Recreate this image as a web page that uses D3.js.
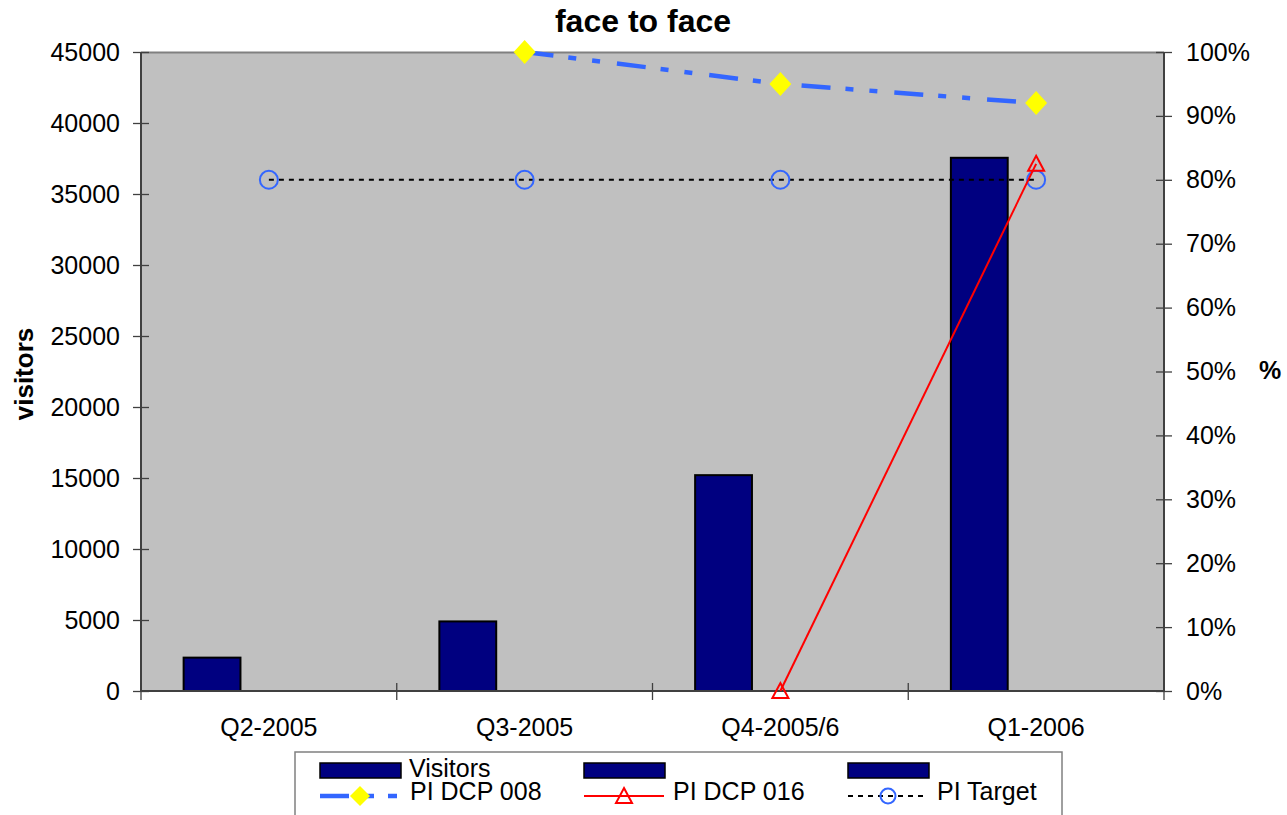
<!DOCTYPE html>
<html>
<head>
<meta charset="utf-8">
<script src="https://cdn.jsdelivr.net/npm/d3@7"></script>
<style>
  html, body { margin: 0; padding: 0; background: #ffffff; }
  svg { display: block; font-family: "Liberation Sans", Arial, sans-serif; }
</style>
</head>
<body>
<svg id="chart" width="1287" height="815"></svg>
<script>
// Quarterly data
const categories = ["Q2-2005", "Q3-2005", "Q4-2005/6", "Q1-2006"];
const visitors = [2350, 4900, 15200, 37550];
const barSeries = ["Visitors", "", ""];           // three column series, only the first has values
const piDcp008 = [null, 1.00, 0.95, 0.92];
const piDcp016 = [null, null, 0.00, 0.825];
const piTarget = [0.80, 0.80, 0.80, 0.80];
const leftTicks = [0, 5000, 10000, 15000, 20000, 25000, 30000, 35000, 40000, 45000];
const rightTicks = [0, 0.1, 0.2, 0.3, 0.4, 0.5, 0.6, 0.7, 0.8, 0.9, 1.0];

const svg = d3.select("#chart");
const plot = { left: 141, right: 1164, top: 52, bottom: 691 };
const axisColor = "#404040";
const blue = "#3366ff";
const tickFont = 25;

const x = d3.scaleBand().domain(categories).range([plot.left, plot.right]).padding(0);
const bw = x.bandwidth();
// gap width 150% between column groups
const xInner = d3.scaleBand().domain(d3.range(barSeries.length))
  .range([bw * 0.75 / 4.5, bw - bw * 0.75 / 4.5]).padding(0);
const yL = d3.scaleLinear().domain([0, 45000]).range([plot.bottom, plot.top]);
const yR = d3.scaleLinear().domain([0, 1]).range([plot.bottom, plot.top]);

// plot background
svg.append("rect")
  .attr("x", plot.left).attr("y", plot.top)
  .attr("width", plot.right - plot.left).attr("height", plot.bottom - plot.top)
  .attr("fill", "#c0c0c0");
svg.append("line")
  .attr("x1", plot.left).attr("x2", plot.right)
  .attr("y1", plot.top + 0.5).attr("y2", plot.top + 0.5)
  .attr("stroke", "#808080").attr("stroke-width", 2);

// title and axis titles
svg.append("text").attr("x", 643).attr("y", 32).attr("text-anchor", "middle")
  .attr("font-size", 32).attr("font-weight", "bold").text("face to face");
svg.append("text").attr("transform", "translate(33,374) rotate(-90)")
  .attr("text-anchor", "middle").attr("font-size", 26).attr("font-weight", "bold").text("visitors");
svg.append("text").attr("x", 1270).attr("y", 379).attr("text-anchor", "middle")
  .attr("font-size", 25).attr("font-weight", "bold").text("%");

// columns
const colGroup = svg.append("g");
colGroup.selectAll("rect")
  .data(visitors.map((v, i) => ({ cat: categories[i], v })))
  .join("rect")
  .attr("x", d => x(d.cat) + xInner(0))
  .attr("y", d => yL(d.v))
  .attr("width", xInner.bandwidth())
  .attr("height", d => yL(0) - yL(d.v))
  .attr("fill", "#000080").attr("stroke", "#000000").attr("stroke-width", 2);

// left axis
const gL = svg.append("g").attr("transform", `translate(${plot.left},0)`)
  .call(d3.axisLeft(yL).tickValues(leftTicks).tickFormat(d3.format("d")).tickSize(8).tickPadding(13));
gL.selectAll(".tick line").attr("x2", -8).attr("x1", 8);
// right axis
const gR = svg.append("g").attr("transform", `translate(${plot.right},0)`)
  .call(d3.axisRight(yR).tickValues(rightTicks).tickFormat(d3.format(".0%")).tickSize(8).tickPadding(14));
gR.selectAll(".tick line").attr("x1", -8).attr("x2", 8);
// category axis
const gB = svg.append("g").attr("transform", `translate(0,${plot.bottom})`)
  .call(d3.axisBottom(x).tickSize(0).tickPadding(27));
gB.selectAll(".tick line").remove();
gB.selectAll(".boundary")
  .data(d3.range(categories.length + 1))
  .join("line")
  .attr("x1", i => plot.left + i * bw).attr("x2", i => plot.left + i * bw)
  .attr("y1", -8).attr("y2", 9)
  .attr("stroke", axisColor).attr("stroke-width", 1.3);

[gL, gR, gB].forEach(g => {
  g.selectAll(".domain").attr("stroke", axisColor).attr("stroke-width", 2);
  g.selectAll(".tick line").attr("stroke", axisColor).attr("stroke-width", 1.3);
  g.selectAll("text").attr("font-size", tickFont).attr("fill", "#000")
    .attr("font-family", "'Liberation Sans', Arial, sans-serif");
});
gL.select(".domain").attr("d", `M0,${plot.top}V${plot.bottom}`);
gR.select(".domain").attr("d", `M0,${plot.top}V${plot.bottom}`);
gB.select(".domain").attr("d", `M${plot.left},0H${plot.right}`);

const cx = i => x(categories[i]) + bw / 2;
const pts = arr => arr.map((v, i) => ({ i, v })).filter(d => d.v !== null);
const lineGen = d3.line().x(d => cx(d.i)).y(d => yR(d.v));

// PI Target: black dotted line with hollow circles
svg.append("path").datum(pts(piTarget)).attr("d", lineGen)
  .attr("fill", "none").attr("stroke", "#000").attr("stroke-width", 2).attr("stroke-dasharray", "5,5");
const circle = (g, px, py, r) => g.append("circle").attr("cx", px).attr("cy", py).attr("r", r)
  .attr("fill", "none").attr("stroke", blue).attr("stroke-width", 2);
pts(piTarget).forEach(d => circle(svg, cx(d.i), yR(d.v), 9));

// PI DCP 008: blue long-dash-dot-dot line with yellow diamonds
svg.append("path").datum(pts(piDcp008)).attr("d", lineGen)
  .attr("fill", "none").attr("stroke", blue).attr("stroke-width", 4.5)
  .attr("stroke-dasharray", "29,15,8,16,8,17");
const diamond = (g, px, py, hw, hh) => g.append("path")
  .attr("d", `M${px},${py - hh}L${px + hw},${py}L${px},${py + hh}L${px - hw},${py}Z`)
  .attr("fill", "#ffff00");
pts(piDcp008).forEach(d => diamond(svg, cx(d.i), yR(d.v), 11, 12));

// PI DCP 016: red line with hollow triangles
svg.append("path").datum(pts(piDcp016)).attr("d", lineGen)
  .attr("fill", "none").attr("stroke", "#ff0000").attr("stroke-width", 2);
const triangle = (g, px, py) => g.append("path")
  .attr("d", `M${px},${py - 8}L${px + 8},${py + 7}L${px - 8},${py + 7}Z`)
  .attr("fill", "none").attr("stroke", "#ff0000").attr("stroke-width", 2);
pts(piDcp016).forEach(d => triangle(svg, cx(d.i), yR(d.v)));

// legend
const lg = svg.append("g");
lg.append("rect").attr("x", 295).attr("y", 752).attr("width", 767).attr("height", 80)
  .attr("fill", "#fff").attr("stroke", "#808080").attr("stroke-width", 1.5);
const colX = [320, 584, 848];
barSeries.forEach((name, i) => {
  lg.append("rect").attr("x", colX[i]).attr("y", 763).attr("width", 81).attr("height", 15)
    .attr("fill", "#000080").attr("stroke", "#000").attr("stroke-width", 1.5);
  if (name) lg.append("text").attr("x", colX[i] + 89).attr("y", 777).attr("font-size", 25).text(name);
});
// row 2
const ry = 796;
lg.append("line").attr("x1", colX[0]).attr("x2", colX[0] + 80).attr("y1", ry).attr("y2", ry)
  .attr("stroke", blue).attr("stroke-width", 4.5).attr("stroke-dasharray", "29,18,7,14,9,20");
diamond(lg, colX[0] + 40, ry, 10, 10);
lg.append("text").attr("x", colX[0] + 90).attr("y", 800).attr("font-size", 25).text("PI DCP 008");
lg.append("line").attr("x1", colX[1]).attr("x2", colX[1] + 80).attr("y1", ry).attr("y2", ry)
  .attr("stroke", "#ff0000").attr("stroke-width", 2);
triangle(lg, colX[1] + 40, ry);
lg.append("text").attr("x", colX[1] + 89).attr("y", 800).attr("font-size", 25).text("PI DCP 016");
lg.append("line").attr("x1", colX[2]).attr("x2", colX[2] + 80).attr("y1", ry).attr("y2", ry)
  .attr("stroke", "#000").attr("stroke-width", 2).attr("stroke-dasharray", "5,5");
circle(lg, colX[2] + 40, ry, 7.5);
lg.append("text").attr("x", colX[2] + 89).attr("y", 800).attr("font-size", 25).text("PI Target");
</script>
</body>
</html>
